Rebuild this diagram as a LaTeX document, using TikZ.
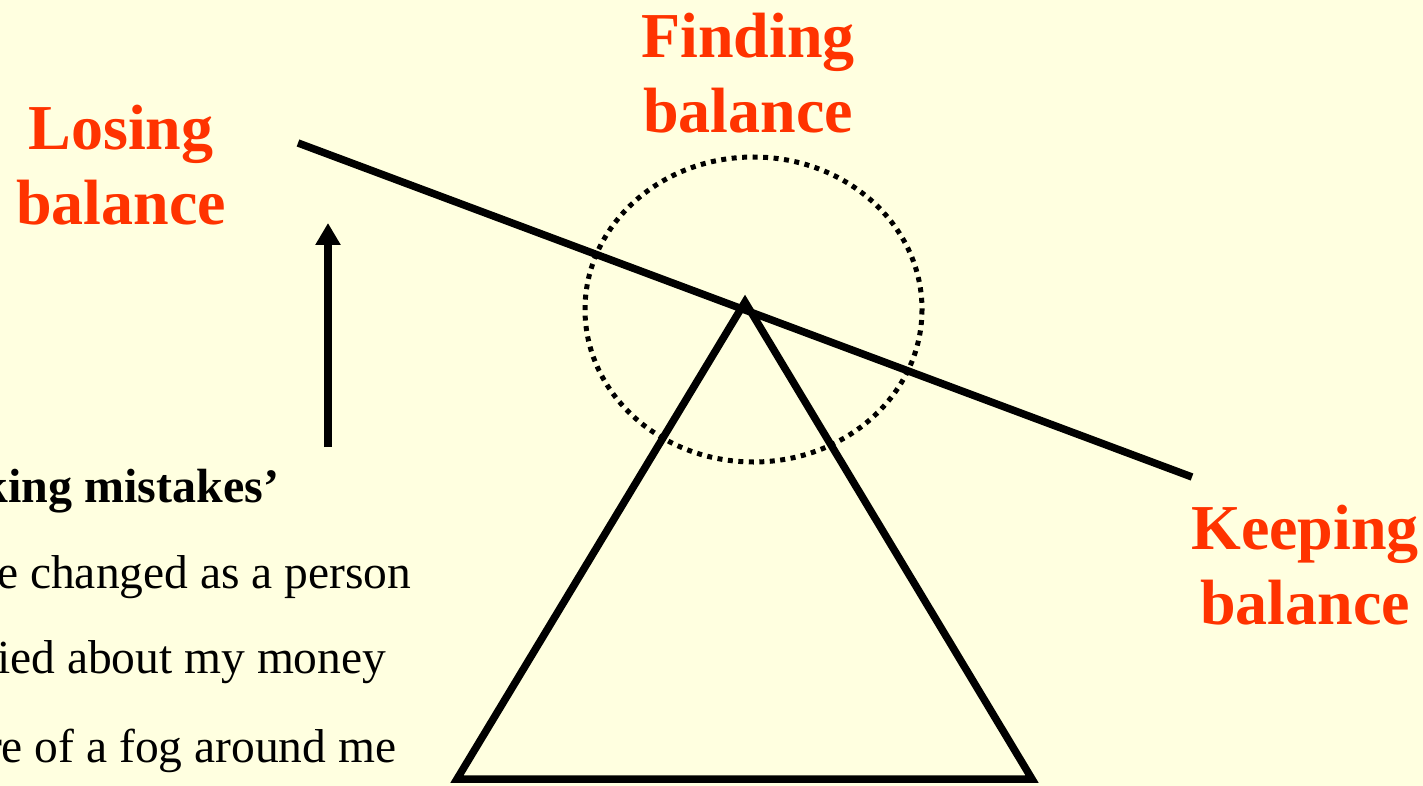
\documentclass[tikz,border=0pt]{standalone}
\usepackage{fontspec}
\setmainfont{Liberation Serif}
\usetikzlibrary{arrows.meta}
\definecolor{paper}{HTML}{FFFFE0}
\definecolor{flame}{HTML}{FF3300}

\begin{document}
\begin{tikzpicture}[x=1pt, y=-1pt, line width=7.5pt,
  title/.style={text=flame, font=\bfseries\fontsize{64}{75}\selectfont,
    align=center, inner sep=0pt},
  note/.style={anchor=base east, inner sep=0pt,
    font=\fontsize{47.5}{56}\selectfont}]
  \fill[paper] (0,0) rectangle (1423,786);
  \useasboundingbox (0,0) rectangle (1423,786);
  \clip (0,0) rectangle (1423,786);
  % fulcrum and beam
  \coordinate (T) at (745,302);
  \coordinate (L) at (457,779);
  \coordinate (R) at (1032,779);
  \coordinate (P) at (298,143); % beam left end
  \coordinate (Q) at (1192,477);
  \coordinate (S) at (328,447); % arrow foot
  \coordinate (H) at (328,223);
  \draw[line join=miter] (T)--(L)--(R)--cycle;
  \draw (P)--(Q);
  \draw[line width=5pt, dash pattern=on 5pt off 5.5pt]
    (753.5,309.5) ellipse[x radius=168.5, y radius=152.5];
  % upward arrow
  \draw[-{Triangle[length=22pt, width=24pt]}] (S)--(H);
  \node[title] (lose) at (121,165) {Losing\\balance};
  \node[title] (find) at (748,73.5) {Finding\\balance};
  \node[title] (keep) at (1305,565) {Keeping\\balance};
  % text cut at the left edge
  \node[note, font=\bfseries\fontsize{48}{56}\selectfont] (n1) at (283,502) {king mistakes’};
  \node[note] (n2) at (415,588) {e changed as a person};
  \node[note] (n3) at (390,673) {ied about my money};
  \node[note] (n4) at (400,762) {re of a fog around me};
\end{tikzpicture}
\end{document}
